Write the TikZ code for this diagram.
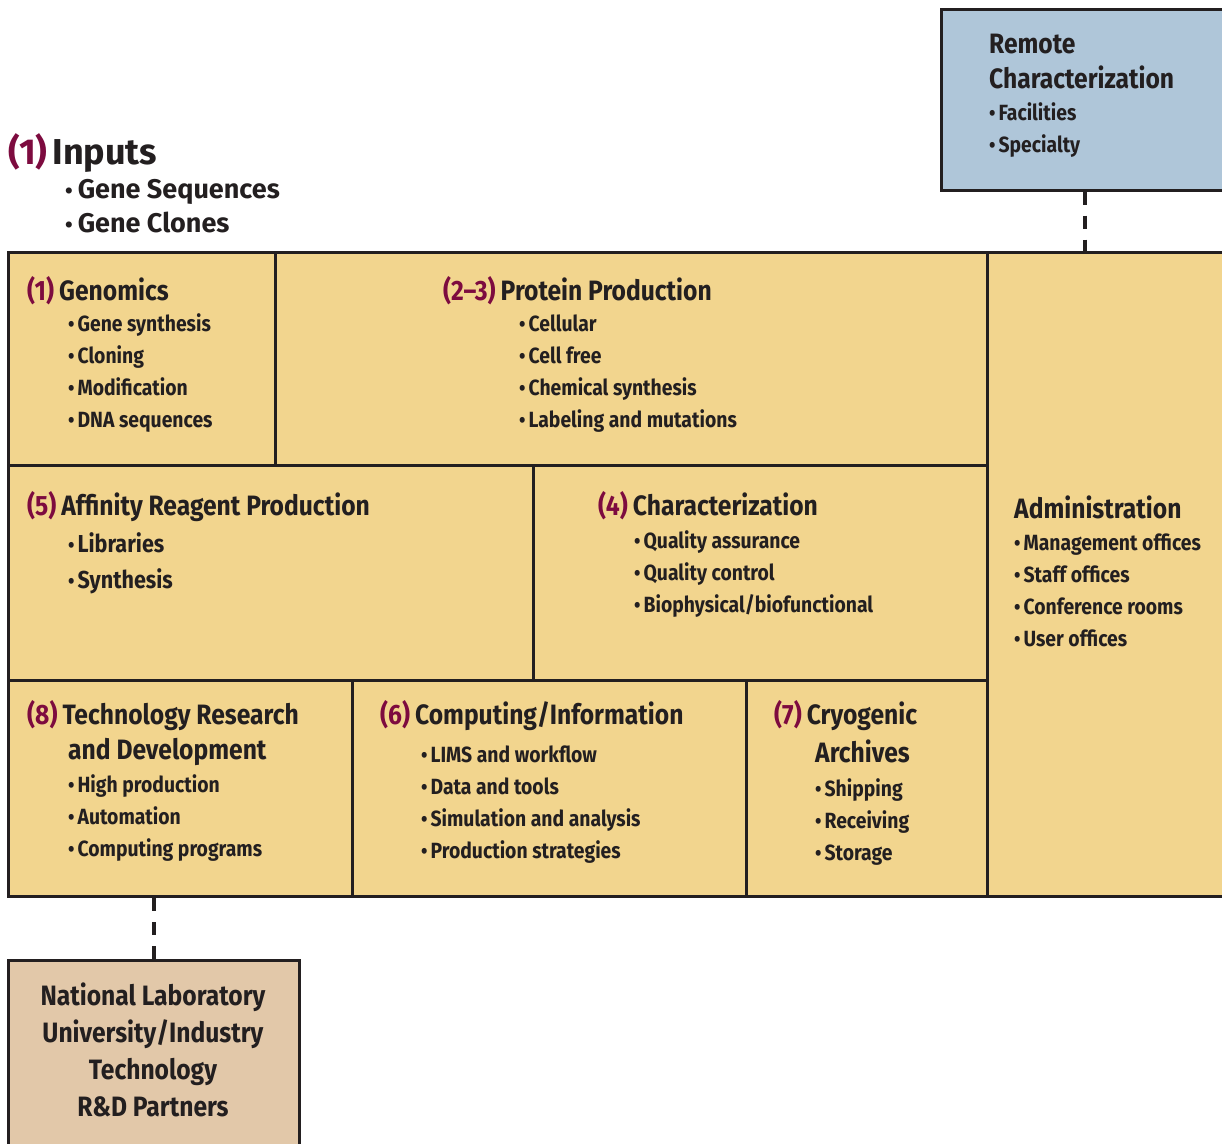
\documentclass[tikz,border=0pt]{standalone}
\usepackage{fontspec}
\setmainfont{Fira Sans}[FakeStretch=0.88]
\newfontfamily\widefont{Fira Sans}
\definecolor{cellfill}{HTML}{F2D58E}
\definecolor{remfill}{HTML}{AFC6D9}
\definecolor{partfill}{HTML}{E2C8A9}
\definecolor{numred}{HTML}{7D0B3F}
\definecolor{ink}{HTML}{231F20}
\newcommand\bu{{\fontsize{21}{21}\selectfont\textbullet}\hspace{3pt}}
\newcommand\bui{{\fontsize{22}{22}\selectfont\textbullet}\hspace{5pt}}
\newcommand\nm[1]{{\color{numred}(#1)}\hspace{5pt}}
\begin{document}
\begin{tikzpicture}[x=1pt,y=-1pt,
  box/.style={draw=ink,line width=3pt,inner sep=0pt},
  cellline/.style={draw=ink,line width=3pt},
  conn/.style={draw=ink,line width=4pt,dash pattern=on 13pt off 11pt},
  ttl/.style={anchor=base west,inner sep=0pt,text=ink,font=\fontsize{28}{32}\selectfont\bfseries},
  itm/.style={anchor=base west,inner sep=0pt,text=ink,font=\fontsize{22}{26}\selectfont\bfseries},
  bigitm/.style={anchor=base west,inner sep=0pt,text=ink,font=\fontsize{24.5}{28}\selectfont\bfseries},
  ptext/.style={anchor=base,inner sep=0pt,text=ink,font=\fontsize{28}{32}\selectfont\bfseries},
  intl/.style={anchor=base west,inner sep=0pt,text=ink,font=\widefont\fontsize{36}{40}\selectfont\bfseries},
  initm/.style={anchor=base west,inner sep=0pt,text=ink,font=\widefont\fontsize{27}{31}\selectfont\bfseries}]
\useasboundingbox (0,0) rectangle (1222,1143);
\clip (0,0) rectangle (1222,1143);
% boxes
\node[box,fill=remfill,minimum width=287pt,minimum height=181pt] (remote) at (1084.5,99.5) {};
\node[box,fill=cellfill,minimum width=1232pt,minimum height=644pt] (main) at (624,574) {};
\node[box,fill=partfill,minimum width=291pt,minimum height=200pt] (partners) at (153.5,1060) {};
% connectors
\draw[conn] (remote.south) -- (remote.south |- main.north);
\draw[conn] (partners.north) -- (partners.north |- main.south);
% internal cell lines
\draw[cellline] (987,252) -- (987,896);
\draw[cellline] (8,465) -- (987,465);
\draw[cellline] (275,252) -- (275,465);
\draw[cellline] (8,680) -- (987,680);
\draw[cellline] (533,465) -- (533,680);
\draw[cellline] (352,680) -- (352,896);
\draw[cellline] (746,680) -- (746,896);
% inputs
\node[intl] (inT) at (8,164) {\nm{1}Inputs};
\node[initm] (in1) at (65,198) {\bui Gene Sequences};
\node[initm] (in2) at (65,232) {\bui Gene Clones};
% remote
\node[ttl] (remT1) at (989,53) {Remote};
\node[ttl] (remT2) at (989,88) {Characterization};
\node[itm] (rem1) at (989,120) {\bu Facilities};
\node[itm] (rem2) at (989,152) {\bu Specialty};
% genomics
\node[ttl] (genT) at (27,300) {\nm{1}Genomics};
\node[itm] (gen1) at (68,331) {\bu Gene synthesis};
\node[itm] (gen2) at (68,363) {\bu Cloning};
\node[itm] (gen3) at (68,395) {\bu Modification};
\node[itm] (gen4) at (68,427) {\bu DNA sequences};
% protein
\node[ttl] (proT) at (443,300) {\nm{2--3}Protein Production};
\node[itm] (pro1) at (519,331) {\bu Cellular};
\node[itm] (pro2) at (519,363) {\bu Cell free};
\node[itm] (pro3) at (519,395) {\bu Chemical synthesis};
\node[itm] (pro4) at (519,427) {\bu Labeling and mutations};
% affinity
\node[ttl] (affT) at (27,515) {\nm{5}Affinity Reagent Production};
\node[bigitm] (aff1) at (68,552) {\bu Libraries};
\node[bigitm] (aff2) at (68,588) {\bu Synthesis};
% characterization
\node[ttl] (chaT) at (598,515) {\nm{4}Characterization};
\node[itm] (cha1) at (634,548) {\bu Quality assurance};
\node[itm] (cha2) at (634,580) {\bu Quality control};
\node[itm] (cha3) at (634,612) {\bu Biophysical/biofunctional};
% administration
\node[ttl] (admT) at (1014,518) {Administration};
\node[itm] (adm1) at (1014,550) {\bu Management offices};
\node[itm] (adm2) at (1014,582) {\bu Staff offices};
\node[itm] (adm3) at (1014,614) {\bu Conference rooms};
\node[itm] (adm4) at (1014,646) {\bu User offices};
% technology R&D
\node[ttl] (tecT1) at (27,724) {\nm{8}Technology Research};
\node[ttl] (tecT2) at (68,759) {and Development};
\node[itm] (tec1) at (68,792) {\bu High production};
\node[itm] (tec2) at (68,824) {\bu Automation};
\node[itm] (tec3) at (68,856) {\bu Computing programs};
% computing
\node[ttl] (comT) at (380,724) {\nm{6}Computing/Information};
\node[itm] (com1) at (421,762) {\bu LIMS and workflow};
\node[itm] (com2) at (421,794) {\bu Data and tools};
\node[itm] (com3) at (421,826) {\bu Simulation and analysis};
\node[itm] (com4) at (421,858) {\bu Production strategies};
% cryogenic
\node[ttl] (cryT1) at (774,724) {\nm{7}Cryogenic};
\node[ttl] (cryT2) at (815,762) {Archives};
\node[itm] (cry1) at (815,796) {\bu Shipping};
\node[itm] (cry2) at (815,828) {\bu Receiving};
\node[itm] (cry3) at (815,860) {\bu Storage};
% partners
\node[ptext] (par1) at (153,1005) {National Laboratory};
\node[ptext] (par2) at (153,1042) {University/Industry};
\node[ptext] (par3) at (153,1079) {Technology};
\node[ptext] (par4) at (153,1116) {R\&D Partners};
\end{tikzpicture}
\end{document}
